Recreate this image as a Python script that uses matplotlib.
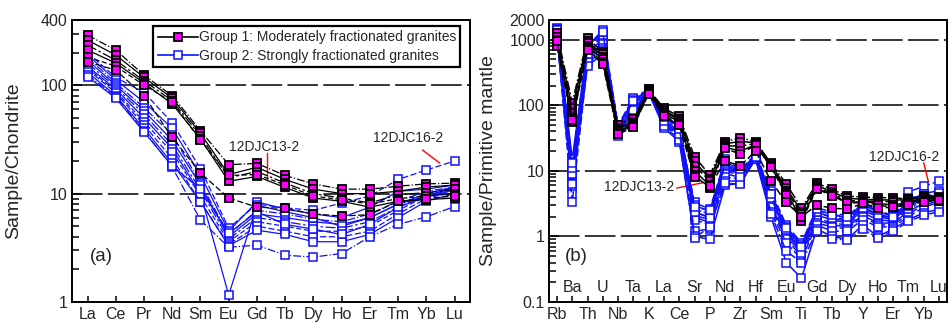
import matplotlib
matplotlib.use("Agg")
import matplotlib.pyplot as plt
from matplotlib.lines import Line2D
from matplotlib.ticker import NullFormatter, FixedLocator, LogLocator
import matplotlib.transforms as mtrans

plt.rcParams['font.family'] = ['Liberation Sans', 'DejaVu Sans']
TXT = '#262626'
MAG = '#ff00ff'
BLUE = '#1010ff'

# ---- panel (a): chondrite-normalised REE ----
ree = ['La', 'Ce', 'Pr', 'Nd', 'Sm', 'Eu', 'Gd', 'Tb', 'Dy', 'Ho', 'Er', 'Tm', 'Yb', 'Lu']

ree_g1 = [
    [290, 211, 124, 80, 38, 18.5, 19, 14.7, 12.3, 11, 11, 11.7, 12.3, 12.5],
    [261, 190, 118, 76, 36, 15, 17.5, 13.5, 11, 10, 10, 10.5, 11.5, 12],
    [235, 170, 110, 72, 34, 14, 16, 12.5, 10, 9.1, 8.2, 9.8, 10.2, 11],
    [211, 160, 105, 67, 32, 13, 14.4, 11.4, 9.1, 8.5, 7.5, 8.5, 8.8, 9.1],
    [182, 150, 100, 70, 31, 14.7, 15, 12, 9.5, 8.8, 8.0, 9.0, 9.5, 10],
    [164, 138, 80, 33, 15.5, 9.1, 7.5, 7.3, 6.5, 6.2, 6.4, 8.5, 9.0, 9.5],
]
ree_g2 = [
    [200, 118, 86, 45, 17, 4.8, 8.0, 7.4, 7.0, 8.2, 9.5, 13.5, 16.5, 20],
    [190, 112, 70, 40, 14.8, 4.5, 8.4, 7.2, 6.5, 6.0, 7.5, 10.5, 11, 12],
    [180, 105, 62, 35, 12.5, 4.2, 7.0, 6.5, 5.8, 5.5, 6.5, 8.5, 10.5, 11.5],
    [170, 100, 58, 31, 12, 4.0, 6.5, 6.0, 5.5, 5.2, 6.0, 8.0, 10, 11.5],
    [160, 96, 54, 28, 10.8, 3.8, 6.0, 5.5, 5.0, 4.8, 5.5, 7.5, 9.8, 11],
    [150, 92, 50, 26, 10, 1.16, 7.8, 6.8, 6.0, 5.0, 6.0, 8.0, 9.5, 11.5],
    [145, 88, 46, 24, 9.5, 3.6, 5.5, 5.0, 4.5, 4.5, 5.0, 7.0, 9.5, 11],
    [140, 85, 43, 21, 8.4, 3.4, 5.0, 4.5, 4.0, 4.0, 4.5, 6.5, 9.0, 10.5],
    [132, 80, 40, 19, 8.4, 3.3, 4.6, 4.2, 3.6, 3.6, 4.2, 6.0, 8.5, 10],
    [125, 78, 38, 17.6, 5.7, 3.2, 3.35, 2.7, 2.6, 2.8, 4.0, 5.2, 6.1, 7.6],
    [120, 76, 37, 18, 11, 4.3, 6.8, 5.2, 4.7, 4.2, 5.2, 7.5, 9.3, 10.8],
]

# ---- panel (b): primitive-mantle-normalised spidergram ----
spider = ['Rb', 'Ba', 'Th', 'U', 'Nb', 'Ta', 'K', 'La', 'Ce', 'Sr', 'P', 'Nd', 'Zr',
          'Hf', 'Sm', 'Eu', 'Ti', 'Gd', 'Tb', 'Dy', 'Y', 'Ho', 'Er', 'Tm', 'Yb', 'Lu']

sp_g1 = [
    [1250, 110, 1050, 650, 50, 62, 175, 90, 68, 16.5, 8.6, 28, 32, 28, 13, 6.4, 2.7, 6.5, 5.2, 4.1, 4.0, 3.9, 3.9, 3.7, 4.2, 4.0],
    [1100, 90, 950, 600, 45, 55, 170, 85, 62, 14, 7.5, 26, 28, 27, 12.5, 5.5, 2.4, 6.0, 4.8, 3.8, 3.7, 3.6, 3.6, 3.6, 4.0, 3.9],
    [1000, 75, 880, 550, 42, 52, 165, 80, 60, 12, 7.0, 24, 24, 26, 12, 5.0, 2.2, 5.6, 4.5, 3.5, 3.5, 3.4, 3.4, 3.4, 3.8, 3.7],
    [900, 65, 800, 500, 40, 50, 160, 75, 56, 10, 6.0, 23, 20, 25, 11.5, 4.6, 1.9, 5.4, 4.3, 3.3, 3.4, 3.2, 3.0, 3.3, 3.6, 3.6],
    [800, 55, 750, 450, 38, 48, 155, 70, 52, 8.5, 5.5, 22, 18, 25, 11.5, 4.3, 1.7, 5.3, 4.2, 3.2, 3.3, 3.0, 2.8, 3.2, 3.5, 3.5],
    [950, 60, 700, 420, 36, 47, 150, 68, 50, 8.0, 5.8, 14, 12, 20, 7.0, 3.3, 2.0, 3.0, 2.7, 2.6, 3.2, 2.7, 2.8, 3.0, 3.4, 3.6],
]
sp_g2 = [
    [1500, 12, 800, 1400, 50, 130, 175, 65, 45, 3.3, 2.6, 15, 10.5, 18, 5.0, 1.5, 0.8, 2.7, 2.4, 2.0, 3.3, 2.6, 2.0, 4.8, 5.8, 7.0],
    [1450, 15, 850, 1200, 48, 120, 172, 68, 47, 3.0, 2.4, 14, 10, 17.5, 4.5, 1.4, 0.75, 2.5, 2.2, 1.9, 3.0, 2.4, 2.0, 3.5, 4.5, 5.0],
    [1400, 10, 700, 1100, 45, 110, 170, 62, 42, 2.6, 2.2, 12, 9.5, 17, 4.0, 1.3, 0.7, 2.3, 2.0, 1.8, 2.8, 2.2, 1.9, 3.0, 4.0, 4.4],
    [1350, 8, 650, 1000, 42, 100, 168, 60, 40, 2.3, 2.0, 11, 9, 16.5, 3.6, 1.2, 0.65, 2.1, 1.8, 1.6, 2.5, 2.0, 1.8, 2.8, 3.8, 4.2],
    [1300, 6.5, 600, 900, 40, 90, 165, 58, 38, 2.1, 1.8, 10, 8.5, 16, 3.2, 1.1, 0.6, 1.9, 1.6, 1.5, 2.3, 1.8, 1.7, 2.6, 3.5, 4.0],
    [1250, 5.5, 550, 850, 38, 80, 162, 55, 36, 2.0, 1.6, 9, 8, 15.5, 3.0, 1.0, 0.55, 1.8, 1.5, 1.4, 2.1, 1.6, 1.6, 2.4, 3.2, 3.8],
    [1200, 4.5, 500, 750, 36, 70, 160, 52, 34, 1.8, 1.5, 8, 7.5, 15.5, 2.8, 0.9, 0.5, 1.6, 1.4, 1.3, 2.0, 1.5, 1.5, 2.2, 3.0, 3.5],
    [1150, 3.3, 450, 650, 35, 60, 158, 50, 32, 1.2, 1.3, 7, 7, 15, 2.4, 0.8, 0.45, 1.5, 1.2, 1.2, 1.8, 1.4, 1.4, 2.0, 2.8, 3.3],
    [1100, 6.2, 400, 600, 34, 55, 155, 45, 28, 1.0, 0.9, 6, 6.5, 15, 2.0, 0.4, 0.23, 1.3, 1.0, 0.9, 1.5, 1.0, 1.3, 1.8, 2.3, 2.6],
    [1200, 9, 600, 550, 37, 65, 165, 48, 30, 0.95, 1.4, 6.5, 6.2, 16, 2.2, 0.6, 0.4, 1.2, 0.92, 0.88, 1.3, 0.95, 1.2, 1.7, 2.1, 2.4],
    [1300, 11, 750, 700, 40, 85, 168, 57, 37, 2.4, 1.9, 12.5, 9.8, 17, 3.8, 1.25, 0.55, 2.4, 1.9, 1.7, 2.7, 2.1, 1.9, 3.2, 3.9, 4.3],
    [1400, 13, 820, 1300, 46, 115, 170, 66, 44, 2.8, 2.5, 13, 8.0, 16, 4.5, 1.35, 0.7, 2.6, 2.1, 2.0, 3.1, 2.5, 2.0, 3.9, 4.2, 4.6],
]

styles = [(0, (5, 2)), '-', '-.', '-', (0, (8, 2, 2, 2)), '-', (0, (4, 2))]


def draw_groups(ax, g1, g2, ms, lw):
    x = list(range(len(g1[0])))
    for i, row in enumerate(g2):
        ax.plot(x, row, color=BLUE, lw=lw, ls=styles[i % len(styles)],
                marker='s', ms=ms, mfc='white', mec=BLUE, mew=1.1, zorder=3)
    for i, row in enumerate(g1):
        ax.plot(x, row, color='black', lw=lw, ls=styles[(i + 2) % len(styles)],
                marker='s', ms=ms, mfc=MAG, mec='black', mew=1.3, zorder=4)


def style_axes(ax, ymin, ymax, yt, ytl, grid):
    ax.set_yscale('log')
    ax.set_ylim(ymin, ymax)
    ax.yaxis.set_major_locator(FixedLocator(yt))
    ax.set_yticklabels(ytl)
    ax.yaxis.set_minor_locator(LogLocator(base=10, subs=range(2, 10)))
    ax.yaxis.set_minor_formatter(NullFormatter())
    ax.tick_params(axis='y', which='major', direction='in', length=7, width=1.1,
                   labelsize=11.5, labelcolor=TXT, right=False, pad=3)
    ax.tick_params(axis='y', which='minor', direction='in', length=5, width=1.1)
    ax.tick_params(axis='x', which='both', direction='in', length=4, width=1.1,
                   labelsize=11.5, labelcolor=TXT, top=False)
    for s in ax.spines.values():
        s.set_linewidth(1.4)
    for g in grid:
        ax.axhline(g, color='black', lw=1.1, ls=(0, (20, 3.5)), zorder=1)


fig = plt.figure(figsize=(9.49, 3.31), dpi=100)
ax1 = fig.add_axes([0.0759, 0.0876, 0.4194, 0.852])
ax2 = fig.add_axes([0.5785, 0.0876, 0.4194, 0.852])

# (a)
draw_groups(ax1, ree_g1, ree_g2, 5.8, 0.9)
style_axes(ax1, 1, 400, [1, 10, 100, 400], ['1', '10', '100', '400'], [10, 100])
ax1.set_xlim(-0.55, len(ree) - 0.45)
ax1.set_xticks(range(len(ree)))
ax1.set_xticklabels(ree)
ax1.set_ylabel('Sample/Chondrite', fontsize=14, color=TXT)
ax1.yaxis.set_label_coords(-0.125, 0.5)
ax1.text(0.073, 0.16, '(a)', transform=ax1.transAxes, fontsize=13.5, color=TXT,
         ha='center', va='center')
ax1.text(6.25, 27, '12DJC13-2', fontsize=10, color=TXT, ha='center', va='center')
ax1.plot([6.36, 6.36], [23.7, 13.3], color='red', lw=1)
ax1.text(11.34, 32.6, '12DJC16-2', fontsize=10, color=TXT, ha='center', va='center')
ax1.plot([11.87, 12.47], [25.2, 19.2], color='red', lw=1)

h1 = Line2D([], [], color='black', lw=1.2, marker='s', ms=5.8, mfc=MAG, mec='black', mew=1.3)
h2 = Line2D([], [], color=BLUE, lw=1.2, marker='s', ms=5.8, mfc='white', mec=BLUE, mew=1.1)
leg = ax1.legend([h1, h2], ['Group 1: Moderately fractionated granites',
                            'Group 2: Strongly fractionated granites'],
                 loc='upper right', bbox_to_anchor=(0.975, 0.978), fontsize=10,
                 numpoints=1, handlelength=2.9, handletextpad=0.05, labelspacing=0.3,
                 borderpad=0.3, fancybox=False, framealpha=1, edgecolor='black',
                 borderaxespad=0)
leg.get_frame().set_linewidth(1.6)
for t in leg.get_texts():
    t.set_color(TXT)

# (b)
draw_groups(ax2, sp_g1, sp_g2, 5.2, 1.1)
style_axes(ax2, 0.1, 2000, [0.1, 1, 10, 100, 1000, 2000],
           ['0.1', '1', '10', '100', '1000', '2000'], [1, 10, 100, 1000])
ax2.set_xlim(-0.52, len(spider) - 0.48)
ax2.set_xticks(range(len(spider)))
ax2.set_xticklabels([e if i % 2 == 0 else '' for i, e in enumerate(spider)])
trans = mtrans.blended_transform_factory(ax2.transData, ax2.transAxes)
for i, e in enumerate(spider):
    if i % 2 == 1:
        ax2.text(i, 0.053, e, transform=trans, fontsize=11.5, color=TXT,
                 ha='center', va='center')
ax2.set_ylabel('Sample/Primitive mantle', fontsize=14, color=TXT)
ax2.yaxis.set_label_coords(-0.13, 0.5)
ax2.text(0.068, 0.16, '(b)', transform=ax2.transAxes, fontsize=13.5, color=TXT,
         ha='center', va='center')
ax2.text(5.37, 5.66, '12DJC13-2', fontsize=10, color=TXT, ha='center', va='center')
ax2.plot([7.85, 9.55], [5.47, 6.6], color='red', lw=1)
ax2.text(22.7, 16.2, '12DJC16-2', fontsize=10, color=TXT, ha='center', va='center')
ax2.plot([24.0, 24.3], [13.2, 6.9], color='red', lw=1)

fig.savefig('out.png', dpi=100)
